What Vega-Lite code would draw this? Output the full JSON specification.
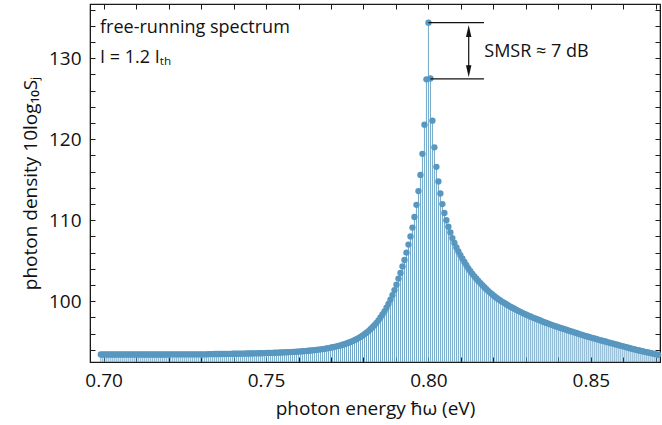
{
  "$schema": "https://vega.github.io/schema/vega-lite/v6.json",
  "width": 570,
  "height": 358,
  "autosize": "none",
  "padding": {"left": 90, "top": 4, "right": 2, "bottom": 63},
  "config": {
    "font": "Open Sans",
    "view": {"stroke": "#1a1a1a", "strokeWidth": 1.2},
    "axis": {"domainColor": "#1a1a1a", "tickColor": "#1a1a1a", "labelColor": "#111111", "titleColor": "#111111", "labelFontSize": 19, "titleFontSize": 19, "titleFontWeight": "normal", "grid": false, "labelFont": "Open Sans", "titleFont": "Open Sans"}
  },
  "data": {"values": [
{"e":0.69914,"s":93.43},{"e":0.699755,"s":93.43},{"e":0.70037,"s":93.43},{"e":0.700985,"s":93.43},{"e":0.7016,"s":93.43},{"e":0.702215,"s":93.43},{"e":0.70283,"s":93.43},{"e":0.703445,"s":93.43},{"e":0.70406,"s":93.43},{"e":0.704675,"s":93.43},{"e":0.70529,"s":93.43},{"e":0.705905,"s":93.43},{"e":0.70652,"s":93.43},{"e":0.707135,"s":93.43},{"e":0.70775,"s":93.43},{"e":0.708365,"s":93.43},{"e":0.70898,"s":93.43},{"e":0.709595,"s":93.43},{"e":0.71021,"s":93.43},{"e":0.710825,"s":93.43},{"e":0.71144,"s":93.43},{"e":0.712055,"s":93.43},{"e":0.71267,"s":93.43},{"e":0.713285,"s":93.43},{"e":0.7139,"s":93.43},{"e":0.714515,"s":93.43},{"e":0.71513,"s":93.43},{"e":0.715745,"s":93.43},{"e":0.71636,"s":93.43},{"e":0.716975,"s":93.43},{"e":0.71759,"s":93.43},{"e":0.718205,"s":93.43},{"e":0.71882,"s":93.43},{"e":0.719435,"s":93.43},
{"e":0.72005,"s":93.45},{"e":0.720665,"s":93.45},{"e":0.72128,"s":93.45},{"e":0.721895,"s":93.45},{"e":0.72251,"s":93.45},{"e":0.723125,"s":93.45},{"e":0.72374,"s":93.45},{"e":0.724355,"s":93.45},{"e":0.72497,"s":93.45},{"e":0.725585,"s":93.45},{"e":0.7262,"s":93.45},{"e":0.726815,"s":93.45},{"e":0.72743,"s":93.45},{"e":0.728045,"s":93.45},{"e":0.72866,"s":93.45},{"e":0.729275,"s":93.45},{"e":0.72989,"s":93.45},{"e":0.730505,"s":93.45},{"e":0.73112,"s":93.45},{"e":0.731735,"s":93.45},
{"e":0.73235,"s":93.48},{"e":0.732965,"s":93.48},{"e":0.73358,"s":93.48},{"e":0.734195,"s":93.49},{"e":0.73481,"s":93.49},{"e":0.735425,"s":93.49},{"e":0.73604,"s":93.49},{"e":0.736655,"s":93.5},{"e":0.73727,"s":93.5},{"e":0.737885,"s":93.5},{"e":0.7385,"s":93.51},{"e":0.739115,"s":93.51},{"e":0.73973,"s":93.52},{"e":0.740345,"s":93.52},{"e":0.74096,"s":93.52},{"e":0.741575,"s":93.53},{"e":0.74219,"s":93.53},{"e":0.742805,"s":93.54},{"e":0.74342,"s":93.54},{"e":0.744035,"s":93.55},{"e":0.74465,"s":93.55},{"e":0.745265,"s":93.56},{"e":0.74588,"s":93.56},{"e":0.746495,"s":93.57},{"e":0.74711,"s":93.57},{"e":0.747725,"s":93.58},{"e":0.74834,"s":93.59},{"e":0.748955,"s":93.59},{"e":0.74957,"s":93.6},{"e":0.750185,"s":93.61},{"e":0.7508,"s":93.62},{"e":0.751415,"s":93.62},{"e":0.75203,"s":93.63},{"e":0.752645,"s":93.64},{"e":0.75326,"s":93.65},{"e":0.753875,"s":93.66},{"e":0.75449,"s":93.67},{"e":0.755105,"s":93.68},{"e":0.75572,"s":93.69},{"e":0.756335,"s":93.7},{"e":0.75695,"s":93.72},{"e":0.757565,"s":93.73},{"e":0.75818,"s":93.74},{"e":0.758795,"s":93.76},{"e":0.75941,"s":93.78},{"e":0.760025,"s":93.79},{"e":0.76064,"s":93.81},{"e":0.761255,"s":93.83},{"e":0.76187,"s":93.85},{"e":0.762485,"s":93.87},{"e":0.7631,"s":93.89},{"e":0.763715,"s":93.92},{"e":0.76433,"s":93.94},{"e":0.764945,"s":93.97},{"e":0.76556,"s":94.0},{"e":0.766175,"s":94.03},{"e":0.76679,"s":94.06},{"e":0.767405,"s":94.1},{"e":0.76802,"s":94.13},{"e":0.768635,"s":94.18},{"e":0.76925,"s":94.22},{"e":0.769865,"s":94.27},{"e":0.77048,"s":94.32},{"e":0.771095,"s":94.37},{"e":0.77171,"s":94.43},{"e":0.772325,"s":94.49},{"e":0.77294,"s":94.55},{"e":0.773555,"s":94.63},{"e":0.77417,"s":94.7},{"e":0.774785,"s":94.79},{"e":0.7754,"s":94.88},{"e":0.776015,"s":94.98},{"e":0.77663,"s":95.08},{"e":0.777245,"s":95.19},{"e":0.77786,"s":95.32},{"e":0.778475,"s":95.45},{"e":0.77909,"s":95.6},{"e":0.779705,"s":95.76},{"e":0.78032,"s":95.93},{"e":0.780935,"s":96.12},{"e":0.78155,"s":96.32},{"e":0.782165,"s":96.54},{"e":0.78278,"s":96.79},{"e":0.783395,"s":97.05},{"e":0.78401,"s":97.34},{"e":0.784625,"s":97.65},{"e":0.78524,"s":97.99},{"e":0.785855,"s":98.36},{"e":0.78647,"s":98.76},{"e":0.787085,"s":99.2},{"e":0.7877,"s":99.67},{"e":0.788315,"s":100.19},{"e":0.78893,"s":100.76},{"e":0.789545,"s":101.38},{"e":0.79016,"s":102.05},{"e":0.790775,"s":102.8},{"e":0.79139,"s":103.5},{"e":0.792005,"s":104.3},{"e":0.79262,"s":105.1},{"e":0.793235,"s":106.0},{"e":0.79385,"s":107.0},{"e":0.794465,"s":108.0},{"e":0.79508,"s":109.1},{"e":0.795695,"s":110.4},{"e":0.79631,"s":111.9},{"e":0.796925,"s":113.6},{"e":0.79754,"s":115.6},{"e":0.798155,"s":118.2},{"e":0.79877,"s":121.8},{"e":0.799385,"s":127.4},
{"e":0.8,"s":134.4},
{"e":0.800615,"s":127.5},{"e":0.80123,"s":122.3},{"e":0.801845,"s":119.0},{"e":0.80246,"s":116.6},{"e":0.803075,"s":114.8},{"e":0.80369,"s":113.3},{"e":0.804305,"s":112.0},{"e":0.80492,"s":110.9},{"e":0.805535,"s":110.0},{"e":0.80615,"s":109.2},{"e":0.806765,"s":108.5},{"e":0.80738,"s":107.8},{"e":0.807995,"s":107.2},{"e":0.80861,"s":106.65},{"e":0.809225,"s":106.15},{"e":0.80984,"s":105.7},{"e":0.810455,"s":105.25},{"e":0.81107,"s":104.85},{"e":0.811685,"s":104.45},{"e":0.8123,"s":104.05},{"e":0.812915,"s":103.7},{"e":0.81353,"s":103.38},{"e":0.814145,"s":103.08},{"e":0.81476,"s":102.79},{"e":0.815375,"s":102.51},{"e":0.81599,"s":102.24},{"e":0.816605,"s":101.98},{"e":0.81722,"s":101.73},{"e":0.817835,"s":101.49},{"e":0.81845,"s":101.26},{"e":0.819065,"s":101.04},{"e":0.81968,"s":100.83},{"e":0.820295,"s":100.63},{"e":0.82091,"s":100.44},{"e":0.821525,"s":100.26},{"e":0.82214,"s":100.09},{"e":0.822755,"s":99.93},{"e":0.82337,"s":99.78},{"e":0.823985,"s":99.63},{"e":0.8246,"s":99.48},{"e":0.825215,"s":99.34},{"e":0.82583,"s":99.2},{"e":0.826445,"s":99.07},{"e":0.82706,"s":98.94},{"e":0.827675,"s":98.81},{"e":0.82829,"s":98.69},{"e":0.828905,"s":98.57},{"e":0.82952,"s":98.45},{"e":0.830135,"s":98.34},{"e":0.83075,"s":98.23},{"e":0.831365,"s":98.12},{"e":0.83198,"s":98.02},{"e":0.832595,"s":97.92},{"e":0.83321,"s":97.82},{"e":0.833825,"s":97.72},{"e":0.83444,"s":97.62},{"e":0.835055,"s":97.52},{"e":0.83567,"s":97.42},{"e":0.836285,"s":97.33},{"e":0.8369,"s":97.24},{"e":0.837515,"s":97.15},{"e":0.83813,"s":97.06},{"e":0.838745,"s":96.97},{"e":0.83936,"s":96.88},{"e":0.839975,"s":96.8},{"e":0.84059,"s":96.72},{"e":0.841205,"s":96.64},{"e":0.84182,"s":96.56},{"e":0.842435,"s":96.48},{"e":0.84305,"s":96.4},{"e":0.843665,"s":96.32},{"e":0.84428,"s":96.24},{"e":0.844895,"s":96.16},{"e":0.84551,"s":96.08},{"e":0.846125,"s":96.0},{"e":0.84674,"s":95.92},{"e":0.847355,"s":95.84},{"e":0.84797,"s":95.76},{"e":0.848585,"s":95.69},{"e":0.8492,"s":95.62},{"e":0.849815,"s":95.55},{"e":0.85043,"s":95.48},{"e":0.851045,"s":95.41},{"e":0.85166,"s":95.34},{"e":0.852275,"s":95.27},{"e":0.85289,"s":95.2},{"e":0.853505,"s":95.13},{"e":0.85412,"s":95.06},{"e":0.854735,"s":95.0},{"e":0.85535,"s":94.93},{"e":0.855965,"s":94.86},{"e":0.85658,"s":94.8},{"e":0.857195,"s":94.73},{"e":0.85781,"s":94.66},{"e":0.858425,"s":94.6},{"e":0.85904,"s":94.53},{"e":0.859655,"s":94.46},{"e":0.86027,"s":94.4},{"e":0.860885,"s":94.33},{"e":0.8615,"s":94.26},{"e":0.862115,"s":94.2},{"e":0.86273,"s":94.13},{"e":0.863345,"s":94.07},{"e":0.86396,"s":94.0},{"e":0.864575,"s":93.95},{"e":0.86519,"s":93.89},{"e":0.865805,"s":93.84},{"e":0.86642,"s":93.78},{"e":0.867035,"s":93.73},{"e":0.86765,"s":93.67},{"e":0.868265,"s":93.62},{"e":0.86888,"s":93.56},{"e":0.869495,"s":93.51},{"e":0.87011,"s":93.45},{"e":0.870725,"s":93.4}
  ]},
  "layer": [
    {
      "mark": {"type": "rule", "stroke": "#5897bf", "strokeWidth": 1, "opacity": 0.85},
      "encoding": {
        "x": {"field": "e", "type": "quantitative", "scale": {"domain": [0.6958, 0.8713], "nice": false, "zero": false},
              "axis": {"orient": "bottom", "values": [0.70,0.71,0.72,0.73,0.74,0.75,0.76,0.77,0.78,0.79,0.80,0.81,0.82,0.83,0.84,0.85,0.86,0.87],
                       "labelExpr": "round(datum.value*100) % 5 == 0 ? format(datum.value, '.2f') : ''",
                       "tickSize": -5, "labelPadding": 14, "labelFlush": false, "title": "photon energy ħω (eV)", "titlePadding": 9}},
        "y": {"field": "s", "type": "quantitative", "scale": {"domain": [92.5, 136.7], "nice": false, "zero": false},
              "axis": {"orient": "left", "values": [94,96,98,100,102,104,106,108,110,112,114,116,118,120,122,124,126,128,130,132,134,136],
                       "labelExpr": "datum.value % 10 == 0 ? datum.value : ''",
                       "tickSize": -5, "labelPadding": 14, "title": "photon density 10log₁₀Sⱼ", "titlePadding": 8}},
        "y2": {"datum": 92.5}
      }
    },
    {
      "mark": {"type": "point", "filled": true, "size": 40, "color": "#5897bf", "opacity": 1},
      "encoding": {
        "x": {"field": "e", "type": "quantitative", "scale": {"domain": [0.6958, 0.8713], "nice": false, "zero": false},
              "axis": {"orient": "top", "values": [0.70,0.71,0.72,0.73,0.74,0.75,0.76,0.77,0.78,0.79,0.80,0.81,0.82,0.83,0.84,0.85,0.86,0.87], "labels": false, "tickSize": -5, "title": null}},
        "y": {"field": "s", "type": "quantitative", "scale": {"domain": [92.5, 136.7], "nice": false, "zero": false},
              "axis": {"orient": "right", "values": [94,96,98,100,102,104,106,108,110,112,114,116,118,120,122,124,126,128,130,132,134,136], "labels": false, "tickSize": -5, "title": null}}
      }
    },
    {
      "data": {"values": [{}]},
      "mark": {"type": "rule", "stroke": "#111111", "strokeWidth": 1.2},
      "encoding": {"x": {"datum": 0.8, "type": "quantitative", "axis": null}, "x2": {"datum": 0.8171}, "y": {"datum": 134.4, "type": "quantitative", "axis": null}}
    },
    {
      "data": {"values": [{}]},
      "mark": {"type": "rule", "stroke": "#111111", "strokeWidth": 1.2},
      "encoding": {"x": {"datum": 0.8006, "type": "quantitative", "axis": null}, "x2": {"datum": 0.8171}, "y": {"datum": 127.45, "type": "quantitative", "axis": null}}
    },
    {
      "data": {"values": [{}]},
      "mark": {"type": "rule", "stroke": "#111111", "strokeWidth": 1.2},
      "encoding": {"x": {"datum": 0.8124, "type": "quantitative", "axis": null}, "y": {"datum": 133.4, "type": "quantitative", "axis": null}, "y2": {"datum": 128.4}}
    },
    {
      "data": {"values": [{}]},
      "mark": {"type": "point", "filled": true, "color": "#111111", "opacity": 1, "size": 144, "shape": "M0,-1L0.45,1L-0.45,1Z"},
      "encoding": {"x": {"datum": 0.8124, "type": "quantitative", "axis": null}, "y": {"datum": 133.37, "type": "quantitative", "axis": null}}
    },
    {
      "data": {"values": [{}]},
      "mark": {"type": "point", "filled": true, "color": "#111111", "opacity": 1, "size": 144, "shape": "M0,1L0.45,-1L-0.45,-1Z"},
      "encoding": {"x": {"datum": 0.8124, "type": "quantitative", "axis": null}, "y": {"datum": 128.4, "type": "quantitative", "axis": null}}
    },
    {
      "data": {"values": [{}]},
      "mark": {"type": "text", "text": "SMSR ≈ 7 dB", "align": "left", "baseline": "middle", "fontSize": 18, "font": "Open Sans", "color": "#111111"},
      "encoding": {"x": {"datum": 0.8172, "type": "quantitative", "axis": null}, "y": {"datum": 130.8, "type": "quantitative", "axis": null}}
    },
    {
      "data": {"values": [{}]},
      "mark": {"type": "text", "text": "free-running spectrum", "align": "left", "baseline": "middle", "fontSize": 18, "font": "Open Sans", "color": "#111111"},
      "encoding": {"x": {"datum": 0.6989, "type": "quantitative", "axis": null}, "y": {"datum": 133.7, "type": "quantitative", "axis": null}}
    },
    {
      "data": {"values": [{}]},
      "mark": {"type": "text", "text": "I = 1.2 Iₜₕ", "align": "left", "baseline": "middle", "fontSize": 18, "font": "Open Sans", "color": "#111111"},
      "encoding": {"x": {"datum": 0.6989, "type": "quantitative", "axis": null}, "y": {"datum": 130.0, "type": "quantitative", "axis": null}}
    }
  ],
  "resolve": {"axis": {"x": "independent", "y": "independent"}}
}
